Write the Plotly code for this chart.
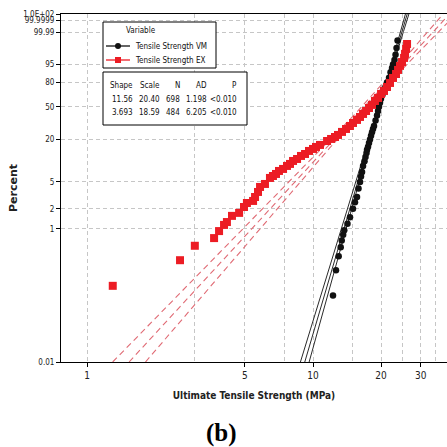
import numpy as np
import plotly.graph_objects as go

# ---------------- data ----------------
variables = ["Tensile Strength VM", "Tensile Strength EX"]
weibull_shape = [11.56, 3.693]
weibull_scale = [20.40, 18.59]
sample_n = [698, 484]
ad_stat = [1.198, 6.205]
p_value = ["<0.010", "<0.010"]

# plotting positions (strength in MPa, cumulative percent)
vm_strength = [12.26, 12.64, 12.99, 13.26, 13.40, 13.60, 13.75, 14.21, 14.58, 15.03,
               15.34, 15.66, 15.90, 16.14, 16.31, 16.48, 16.65, 16.90, 17.07, 17.25,
               17.34, 17.52, 17.69, 17.87, 18.06, 18.24, 18.43, 18.62, 18.91, 19.20,
               19.40, 19.59, 19.79, 19.99, 20.30, 20.62, 20.94, 21.26, 21.70, 22.03,
               22.37, 22.59, 22.94, 23.18, 23.42, 23.66]
vm_percent = [0.10, 0.24, 0.39, 0.53, 0.67, 0.82, 0.96, 1.2, 1.5, 2.0,
              2.5, 3.0, 4.0, 5.0, 6.0, 7.0, 8.5, 10, 11.5, 13,
              14.5, 16, 18, 20, 22.5, 25, 27.5, 30, 35, 40,
              45, 50, 55, 60, 65, 70, 75, 80, 85, 90,
              93, 95, 97, 98.5, 99.5, 99.9]

ex_strength = [1.30, 2.58, 3.00, 3.65, 3.84, 4.04, 4.16, 4.38, 4.71, 4.95,
               5.10, 5.43, 5.54, 5.71, 5.83, 6.13, 6.45, 6.65, 6.86, 7.07,
               7.37, 7.67, 7.91, 8.16, 8.50, 8.85, 9.22, 9.60, 10.0, 10.31,
               10.74, 11.54, 12.02, 12.51, 12.90, 13.44, 14.0, 14.57, 15.03, 15.66,
               16.14, 16.65, 17.17, 17.69, 18.24, 18.80, 19.40, 20.0, 20.61, 21.25,
               21.92, 22.59, 23.30, 23.78, 24.26, 24.77, 25.29, 25.54, 25.82, 26.07]
ex_percent = [0.14, 0.34, 0.56, 0.73, 0.93, 1.15, 1.27, 1.57, 1.74, 2.13,
              2.44, 2.62, 3.0, 3.56, 4.22, 4.67, 5.72, 6.11, 6.54, 7.23,
              7.73, 8.54, 9.13, 10.07, 10.75, 11.86, 12.65, 13.94, 14.86, 15.84,
              16.88, 19.1, 20.35, 21.6, 23.0, 25.2, 27.5, 30.0, 32.7, 35.6,
              38.6, 41.8, 45.1, 48.6, 52.3, 57.2, 61.0, 66.1, 69.9, 74.8,
              79.5, 84.8, 88.5, 91.7, 94.3, 96.2, 97.7, 98.7, 99.42, 99.78]

y_tick_percent = [0.01, 1, 2, 5, 20, 50, 80, 95, 99.99, 99.9999, 100]
y_tick_text = ["0.01", "1", "2", "5", "20", "50", "80", "95", "99.99", "99.9999", "1.0E+02"]
x_tick_vals = [1, 5, 10, 20, 30]
x_tick_text = ["1", "5", "10", "20", "30"]
x_minor_grid = [3, 7.5, 15, 25, 35]

# ---------------- helpers ----------------
Y_BOT = np.log(-np.log(1 - 0.0001))   # 0.01 %
Y_TOP = 2.85                           # top of the probability scale
X_RANGE = [-0.11504, 1.5929]


def weibull_y(p):
    p = np.asarray(p, dtype=float)
    out = np.full(p.shape, Y_TOP)
    ok = p < 100
    out[ok] = np.log(-np.log(1 - p[ok] / 100.0))
    return out


def fit_curves(shape, scale, n, z=1.96):
    y = np.linspace(Y_BOT, Y_TOP, 240)
    b = 1.0 / shape
    lnx = np.log(scale) + b * y
    se = b * np.sqrt((1.1087 + 0.5140 * y + 0.6079 * y ** 2) / n)
    return y, np.exp(lnx), np.exp(lnx - z * se), np.exp(lnx + z * se)


# plot-area geometry used for placing the legend / table boxes
W = H = 447
ML, MR, MT, MB = 61, 0, 14, 85
PW, PH = W - ML - MR, H - MT - MB


def px(x):
    return (x - ML) / PW


def py(y):
    return (H - MB - y) / PH


NARROW = "DejaVu Sans Condensed, Liberation Sans Narrow, sans-serif"
BLACK_LINE = "#2a2a2a"
RED = "#ec1c24"
RED_LINE = "#e06a74"

fig = go.Figure()

# fitted Weibull lines with confidence bounds
line_styles = [dict(color=BLACK_LINE, width=1),
               dict(color=RED_LINE, width=1.1, dash="6px,4px")]
for i in range(2):
    y, xc, xl, xu = fit_curves(weibull_shape[i], weibull_scale[i], sample_n[i])
    for xs in (xl, xc, xu):
        fig.add_trace(go.Scatter(x=xs, y=y, mode="lines", line=line_styles[i],
                                 showlegend=False, hoverinfo="skip"))

fig.add_trace(go.Scatter(x=vm_strength, y=weibull_y(vm_percent), mode="markers",
                         name=variables[0], showlegend=False,
                         marker=dict(symbol="circle", size=6.5, color="#111111")))
fig.add_trace(go.Scatter(x=ex_strength, y=weibull_y(ex_percent), mode="markers",
                         name=variables[1], showlegend=False,
                         marker=dict(symbol="square", size=8, color=RED)))

grid = dict(showgrid=True, gridcolor="#c6c6c6", gridwidth=1, griddash="4px,3px")

fig.update_xaxes(type="log", range=X_RANGE, tickmode="array", tickvals=x_tick_vals,
                 ticktext=x_tick_text, ticks="outside", ticklen=4, tickcolor="black",
                 showline=True, linecolor="black", linewidth=1, mirror=True,
                 tickfont=dict(family=NARROW, size=10, color="#222"),
                 minor=dict(tickmode="array", tickvals=x_minor_grid, ticks="", **grid),
                 title=dict(text="<b>Ultimate Tensile Strength (MPa)</b>", standoff=11,
                            font=dict(family=NARROW, size=10, color="#222")),
                 automargin=False, zeroline=False, **grid)
fig.update_yaxes(range=[Y_BOT, Y_TOP], tickmode="array", tickvals=weibull_y(y_tick_percent),
                 ticktext=y_tick_text, ticks="outside", ticklen=4, tickcolor="black",
                 showline=True, linecolor="black", linewidth=1, mirror=False,
                 tickfont=dict(family=NARROW, size=8, color="#222"),
                 title=dict(text="<b>Percent</b>", standoff=3,
                            font=dict(family="DejaVu Sans", size=11, color="#222")),
                 automargin=False, zeroline=False, **grid)

shapes = []
ann = []
txt = dict(family=NARROW, size=8, color="#111")
P = dict(xref="paper", yref="paper")

# legend box
shapes.append(dict(type="rect", **P, x0=px(103), x1=px(216),
                   y0=py(68), y1=py(22), line=dict(color="black", width=1),
                   fillcolor="white", layer="above"))
ann.append(dict(**P, x=px(141), y=py(31), text="Variable", showarrow=False,
                xanchor="center", yanchor="middle", font=txt))
leg_rows = [46, 60]
leg_colors = ["#111111", RED]
for i, yy in enumerate(leg_rows):
    shapes.append(dict(type="line", **P, x0=px(106), x1=px(130),
                       y0=py(yy), y1=py(yy), line=dict(color=leg_colors[i], width=1.3),
                       layer="above"))
    shapes.append(dict(type="circle" if i == 0 else "rect", **P,
                       x0=px(115), x1=px(121), y0=py(yy + 3), y1=py(yy - 3),
                       fillcolor=leg_colors[i], line=dict(color=leg_colors[i], width=0),
                       layer="above"))
    ann.append(dict(**P, x=px(133), y=py(yy), text=variables[i], showarrow=False,
                    xanchor="left", yanchor="middle", font=txt))

# statistics table
shapes.append(dict(type="rect", **P, x0=px(103), x1=px(247),
                   y0=py(125), y1=py(72), line=dict(color="black", width=1),
                   fillcolor="white", layer="above"))
col_right = [135, 162, 182, 209, 239]
headers = ["Shape", "Scale", "N", "AD", "P"]
rows = [[f"{weibull_shape[i]:.4g}", f"{weibull_scale[i]:.2f}", str(sample_n[i]),
         f"{ad_stat[i]:.3f}", p_value[i]] for i in range(2)]
for c, xr in enumerate(col_right):
    ann.append(dict(**P, x=px(xr), y=py(86), text=headers[c], showarrow=False,
                    xanchor="right", yanchor="middle", font=txt))
    for r, yy in enumerate([100, 113]):
        ann.append(dict(**P, x=px(xr), y=py(yy), text=rows[r][c], showarrow=False,
                        xanchor="right", yanchor="middle", font=txt))

# panel label
ann.append(dict(**P, x=px(221), y=py(433), text="<b>(b)</b>", showarrow=False,
                xanchor="center", yanchor="middle",
                font=dict(family="Liberation Serif, Times New Roman, serif", size=25,
                          color="black")))

fig.update_layout(template="none", width=W, height=H, autosize=False,
                  margin=dict(l=ML, r=MR, t=MT, b=MB, pad=0),
                  paper_bgcolor="white", plot_bgcolor="white",
                  shapes=shapes, annotations=ann, showlegend=False)

fig.write_html("out.html")
